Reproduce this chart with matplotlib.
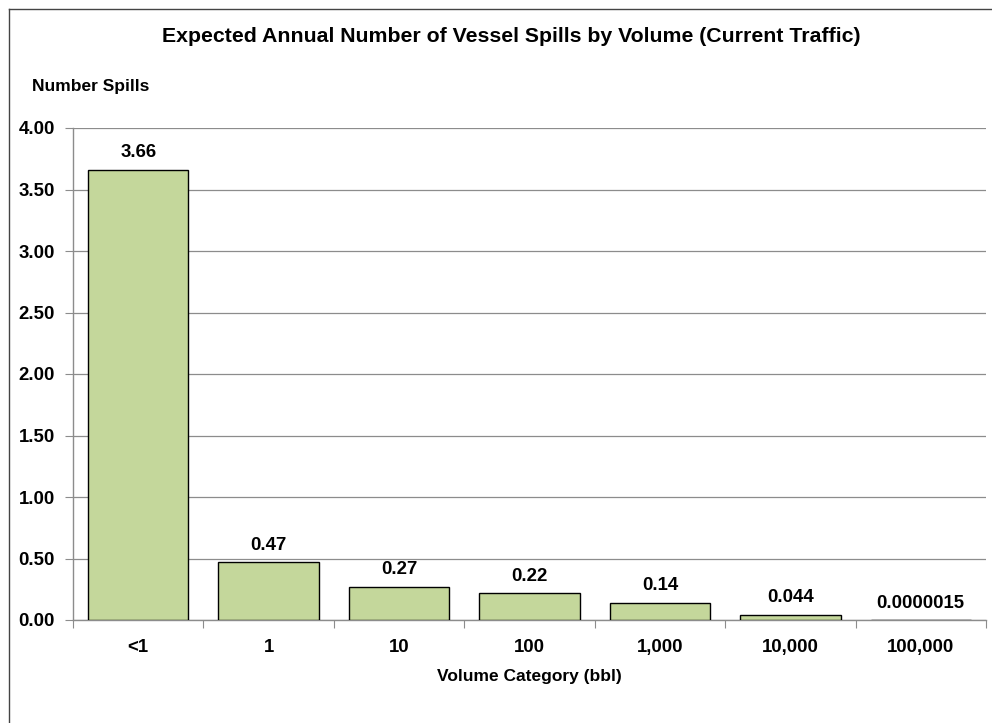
import matplotlib.pyplot as plt
from matplotlib.lines import Line2D
import numpy as np

plt.rcParams['font.family'] = ['Liberation Sans', 'DejaVu Sans']
plt.rcParams['font.weight'] = 'bold'

categories = ['<1', '1', '10', '100', '1,000', '10,000', '100,000']
spills = [3.66, 0.47, 0.27, 0.22, 0.14, 0.044, 0.0000015]
value_labels = ['3.66', '0.47', '0.27', '0.22', '0.14', '0.044', '0.0000015']
yticks = [0.0, 0.5, 1.0, 1.5, 2.0, 2.5, 3.0, 3.5, 4.0]

fig = plt.figure(figsize=(9.92, 7.23), dpi=100)
ax = fig.add_axes([73/992, 1-620/723, (986-73)/992, (620-128)/723])

num_fs = 13.4
word_fs = 12.5

x = np.arange(len(categories))
ax.bar(x, spills, width=0.77, color='#C4D79B', edgecolor='black', linewidth=1.0, zorder=3)
for xi, v, lab in zip(x, spills, value_labels):
    ax.annotate(lab, (xi, v), xytext=(0, 6), textcoords='offset points',
                ha='center', va='bottom', fontsize=num_fs, fontweight='bold')

ax.set_xlim(-0.5, len(categories) - 0.5)
ax.set_ylim(0, 4.0)
ax.set_yticks(yticks)
ax.set_yticklabels([f'{t:.2f}' for t in yticks], fontsize=num_fs, fontweight='bold')
ax.yaxis.grid(True, color='#8c8c8c', linewidth=0.9, zorder=0)
ax.set_axisbelow(True)

# category ticks sit on the boundaries between bars
ax.set_xticks(np.arange(len(categories) + 1) - 0.5)
ax.set_xticklabels([])
ax.set_xticks(x, minor=True)
ax.set_xticklabels(categories, minor=True, fontsize=num_fs, fontweight='bold')
ax.tick_params(axis='x', which='minor', length=0, pad=14)
ax.tick_params(axis='x', which='major', length=6, color='#8c8c8c', direction='out')
ax.tick_params(axis='y', length=6, color='#8c8c8c', pad=7)

for s in ['top', 'right']:
    ax.spines[s].set_visible(False)
for s in ['left', 'bottom']:
    ax.spines[s].set_color('#8c8c8c')
    ax.spines[s].set_linewidth(1.0)

ax.set_xlabel('Volume Category (bbl)', fontsize=word_fs, fontweight='bold', labelpad=9)

fig.text(511/992, 1-37/723, 'Expected Annual Number of Vessel Spills by Volume (Current Traffic)',
         ha='center', va='center', fontsize=15.3, fontweight='bold')
fig.text(32/992, 1-87/723, 'Number Spills', ha='left', va='center', fontsize=word_fs, fontweight='bold')

# chart frame, top and left edges
fig.add_artist(Line2D([9/992, 1.0], [1-9/723, 1-9/723], transform=fig.transFigure,
                      color='#444444', linewidth=1.0))
fig.add_artist(Line2D([9/992, 9/992], [0.0, 1-9/723], transform=fig.transFigure,
                      color='#444444', linewidth=1.0))

fig.savefig('out.png', dpi=100)
